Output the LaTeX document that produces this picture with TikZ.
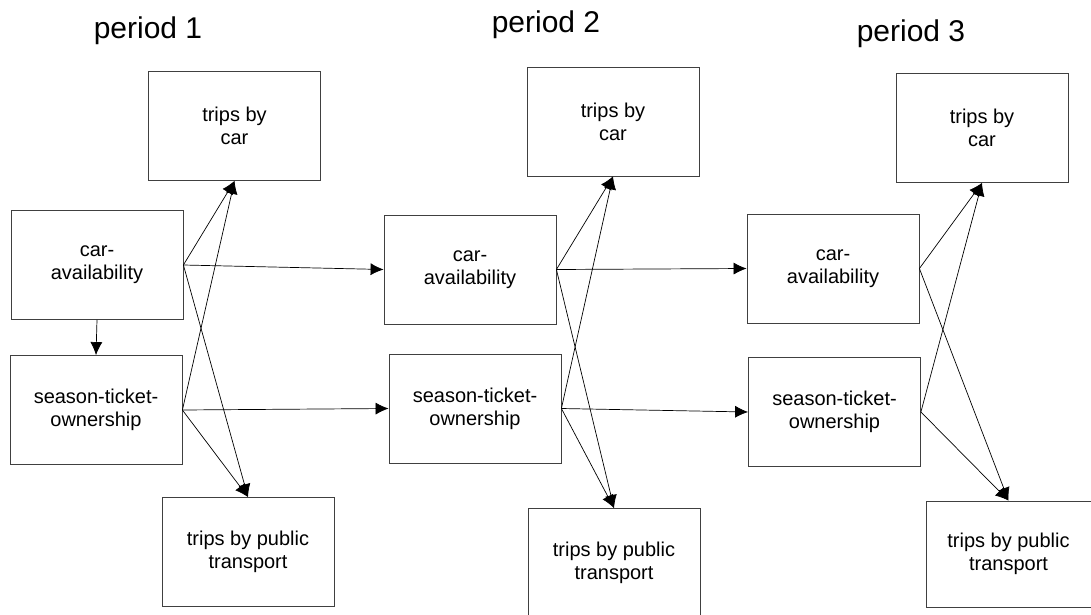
\documentclass[tikz,border=0pt]{standalone}
\usepackage{fontspec}
\setmainfont{Liberation Sans}
\usetikzlibrary{arrows.meta}

\begin{document}
\begin{tikzpicture}[x=1pt,y=-1pt,>={Latex[length=13pt,width=12pt]},
  box/.style={draw=black!75,line width=0.8pt,minimum width=172pt,minimum height=109pt,inner sep=0pt,align=center,font=\fontsize{20}{23}\selectfont},
  period/.style={anchor=base,font=\fontsize{30}{34}\selectfont},
  link/.style={->,line width=0.7pt}]
\clip (0,0) rectangle (1091,615);
% period labels
\node[period] (per1) at (148,39) {period 1};
\node[period] (per2) at (546,33) {period 2};
\node[period] (per3) at (911,42) {period 3};
% period 1
\node[box] (tcar1) at (234.5,126) {trips by\\car};
\node[box] (cav1) at (97,265) {car-\\availability};
\node[box] (sto1) at (96,410) {season-ticket-\\ownership};
\node[box] (tpt1) at (248,552) {trips by public\\transport};
% period 2
\node[box] (tcar2) at (613,121.5) {trips by\\car};
\node[box] (cav2) at (470,269.5) {car-\\availability};
\node[box] (sto2) at (475,408.5) {season-ticket-\\ownership};
\node[box] (tpt2) at (614,563) {trips by public\\transport};
% period 3
\node[box] (tcar3) at (982,128) {trips by\\car};
\node[box] (cav3) at (833,268.5) {car-\\availability};
\node[box] (sto3) at (834.5,412) {season-ticket-\\ownership};
\node[box,minimum width=165pt,minimum height=106pt] (tpt3) at (1008.5,554) {trips by public\\transport};
% within periods
\draw[link] (cav1.south) -- (sto1.north);
\draw[link] (cav1.east) -- (tcar1.south);
\draw[link] (cav1.east) -- (tpt1.north);
\draw[link] (sto1.east) -- (tcar1.south);
\draw[link] (sto1.east) -- (tpt1.north);
\draw[link] (cav2.east) -- (tcar2.south);
\draw[link] (cav2.east) -- (tpt2.north);
\draw[link] (sto2.east) -- (tcar2.south);
\draw[link] (sto2.east) -- (tpt2.north);
\draw[link] (cav3.east) -- (tcar3.south);
\draw[link] (cav3.east) -- (tpt3.north);
\draw[link] (sto3.east) -- (tcar3.south);
\draw[link] (sto3.east) -- (tpt3.north);
% between periods
\draw[link] (cav1.east) -- (cav2.west);
\draw[link] (sto1.east) -- (sto2.west);
\draw[link] (cav2.east) -- (cav3.west);
\draw[link] (sto2.east) -- (sto3.west);
\end{tikzpicture}
\end{document}
